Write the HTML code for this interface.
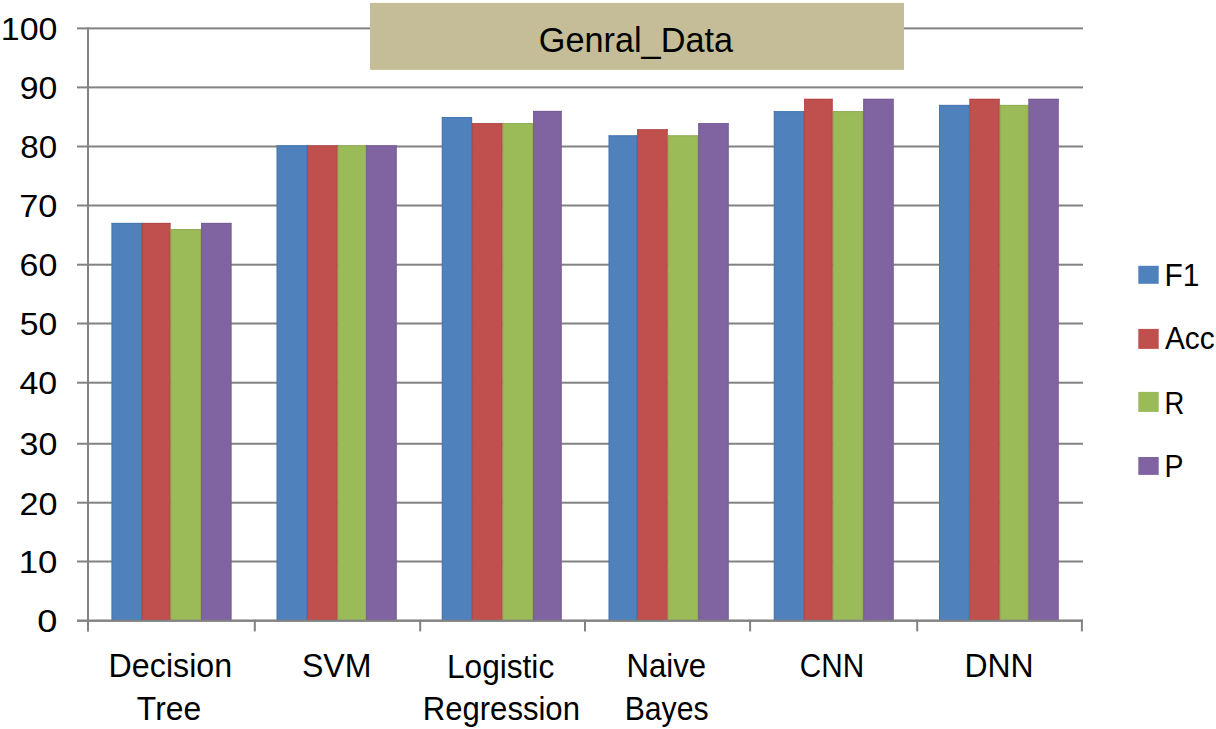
<!DOCTYPE html>
<html><head><meta charset="utf-8"><style>
html,body{margin:0;padding:0;background:#fff;width:1216px;height:729px;overflow:hidden}
svg{display:block}
text{font-family:"Liberation Sans",sans-serif;fill:#000;stroke:none}

</style></head><body>
<svg width="1216" height="729" viewBox="0 0 1216 729">
<rect x="0" y="0" width="1216" height="729" fill="#fff"/>
<rect x="77" y="619.70" width="1006" height="2" fill="#828282"/>
<rect x="77" y="560.50" width="1006" height="2" fill="#828282"/>
<rect x="77" y="501.70" width="1006" height="2" fill="#828282"/>
<rect x="77" y="442.75" width="1006" height="2" fill="#828282"/>
<rect x="77" y="381.70" width="1006" height="2" fill="#828282"/>
<rect x="77" y="322.50" width="1006" height="2" fill="#828282"/>
<rect x="77" y="263.70" width="1006" height="2" fill="#828282"/>
<rect x="77" y="204.50" width="1006" height="2" fill="#828282"/>
<rect x="77" y="145.50" width="1006" height="2" fill="#828282"/>
<rect x="77" y="86.40" width="1006" height="2" fill="#828282"/>
<rect x="77" y="27.40" width="1006" height="2" fill="#828282"/>
<rect x="111.50" y="222.90" width="30.50" height="397.80" fill="#4F81BD"/>
<rect x="141.99" y="222.90" width="1" height="397.80" fill="#4F81BD"/>
<rect x="142.00" y="222.90" width="28.50" height="397.80" fill="#C0504D"/>
<rect x="170.49" y="229.00" width="1" height="391.70" fill="#C0504D"/>
<rect x="170.50" y="229.00" width="30.60" height="391.70" fill="#9BBB59"/>
<rect x="201.09" y="229.00" width="1" height="391.70" fill="#9BBB59"/>
<rect x="201.10" y="222.90" width="30.40" height="397.80" fill="#8064A2"/>
<rect x="276.60" y="145.30" width="30.50" height="475.40" fill="#4F81BD"/>
<rect x="307.09" y="145.30" width="1" height="475.40" fill="#4F81BD"/>
<rect x="307.10" y="145.30" width="30.50" height="475.40" fill="#C0504D"/>
<rect x="337.59" y="145.30" width="1" height="475.40" fill="#C0504D"/>
<rect x="337.60" y="145.30" width="28.60" height="475.40" fill="#9BBB59"/>
<rect x="366.19" y="145.30" width="1" height="475.40" fill="#9BBB59"/>
<rect x="366.20" y="145.30" width="30.50" height="475.40" fill="#8064A2"/>
<rect x="441.80" y="117.00" width="30.30" height="503.70" fill="#4F81BD"/>
<rect x="472.09" y="123.10" width="1" height="497.60" fill="#4F81BD"/>
<rect x="472.10" y="123.10" width="30.40" height="497.60" fill="#C0504D"/>
<rect x="502.49" y="123.10" width="1" height="497.60" fill="#C0504D"/>
<rect x="502.50" y="123.10" width="30.60" height="497.60" fill="#9BBB59"/>
<rect x="533.09" y="123.10" width="1" height="497.60" fill="#9BBB59"/>
<rect x="533.10" y="110.90" width="28.60" height="509.80" fill="#8064A2"/>
<rect x="608.60" y="135.30" width="28.50" height="485.40" fill="#4F81BD"/>
<rect x="637.09" y="135.30" width="1" height="485.40" fill="#4F81BD"/>
<rect x="637.10" y="129.20" width="30.60" height="491.50" fill="#C0504D"/>
<rect x="667.69" y="135.30" width="1" height="485.40" fill="#C0504D"/>
<rect x="667.70" y="135.30" width="30.50" height="485.40" fill="#9BBB59"/>
<rect x="698.19" y="135.30" width="1" height="485.40" fill="#9BBB59"/>
<rect x="698.20" y="123.10" width="30.50" height="497.60" fill="#8064A2"/>
<rect x="773.80" y="111.10" width="30.30" height="509.60" fill="#4F81BD"/>
<rect x="804.09" y="111.10" width="1" height="509.60" fill="#4F81BD"/>
<rect x="804.10" y="98.80" width="28.60" height="521.90" fill="#C0504D"/>
<rect x="832.69" y="111.10" width="1" height="509.60" fill="#C0504D"/>
<rect x="832.70" y="111.10" width="30.50" height="509.60" fill="#9BBB59"/>
<rect x="863.19" y="111.10" width="1" height="509.60" fill="#9BBB59"/>
<rect x="863.20" y="98.80" width="30.50" height="521.90" fill="#8064A2"/>
<rect x="939.00" y="104.90" width="30.40" height="515.80" fill="#4F81BD"/>
<rect x="969.39" y="104.90" width="1" height="515.80" fill="#4F81BD"/>
<rect x="969.40" y="98.80" width="30.30" height="521.90" fill="#C0504D"/>
<rect x="999.69" y="104.90" width="1" height="515.80" fill="#C0504D"/>
<rect x="999.70" y="104.90" width="28.70" height="515.80" fill="#9BBB59"/>
<rect x="1028.39" y="104.90" width="1" height="515.80" fill="#9BBB59"/>
<rect x="1028.40" y="98.80" width="30.30" height="521.90" fill="#8064A2"/>
<rect x="111.50" y="222.90" width="30.50" height="1" fill="#4571a6" opacity="0.6"/>
<rect x="111.50" y="222.90" width="1" height="397.80" fill="#4571a6" opacity="0.6"/>
<rect x="141.00" y="222.90" width="1" height="397.80" fill="#4571a6" opacity="0.6"/>
<rect x="142.00" y="222.90" width="28.50" height="1" fill="#a84643" opacity="0.6"/>
<rect x="142.00" y="222.90" width="1" height="397.80" fill="#a84643" opacity="0.6"/>
<rect x="169.50" y="222.90" width="1" height="397.80" fill="#a84643" opacity="0.6"/>
<rect x="170.50" y="229.00" width="30.60" height="1" fill="#88a44e" opacity="0.6"/>
<rect x="170.50" y="229.00" width="1" height="391.70" fill="#88a44e" opacity="0.6"/>
<rect x="200.10" y="229.00" width="1" height="391.70" fill="#88a44e" opacity="0.6"/>
<rect x="201.10" y="222.90" width="30.40" height="1" fill="#70588e" opacity="0.6"/>
<rect x="201.10" y="222.90" width="1" height="397.80" fill="#70588e" opacity="0.6"/>
<rect x="230.50" y="222.90" width="1" height="397.80" fill="#70588e" opacity="0.6"/>
<rect x="276.60" y="145.30" width="30.50" height="1" fill="#4571a6" opacity="0.6"/>
<rect x="276.60" y="145.30" width="1" height="475.40" fill="#4571a6" opacity="0.6"/>
<rect x="306.10" y="145.30" width="1" height="475.40" fill="#4571a6" opacity="0.6"/>
<rect x="307.10" y="145.30" width="30.50" height="1" fill="#a84643" opacity="0.6"/>
<rect x="307.10" y="145.30" width="1" height="475.40" fill="#a84643" opacity="0.6"/>
<rect x="336.60" y="145.30" width="1" height="475.40" fill="#a84643" opacity="0.6"/>
<rect x="337.60" y="145.30" width="28.60" height="1" fill="#88a44e" opacity="0.6"/>
<rect x="337.60" y="145.30" width="1" height="475.40" fill="#88a44e" opacity="0.6"/>
<rect x="365.20" y="145.30" width="1" height="475.40" fill="#88a44e" opacity="0.6"/>
<rect x="366.20" y="145.30" width="30.50" height="1" fill="#70588e" opacity="0.6"/>
<rect x="366.20" y="145.30" width="1" height="475.40" fill="#70588e" opacity="0.6"/>
<rect x="395.70" y="145.30" width="1" height="475.40" fill="#70588e" opacity="0.6"/>
<rect x="441.80" y="117.00" width="30.30" height="1" fill="#4571a6" opacity="0.6"/>
<rect x="441.80" y="117.00" width="1" height="503.70" fill="#4571a6" opacity="0.6"/>
<rect x="471.10" y="117.00" width="1" height="503.70" fill="#4571a6" opacity="0.6"/>
<rect x="472.10" y="123.10" width="30.40" height="1" fill="#a84643" opacity="0.6"/>
<rect x="472.10" y="123.10" width="1" height="497.60" fill="#a84643" opacity="0.6"/>
<rect x="501.50" y="123.10" width="1" height="497.60" fill="#a84643" opacity="0.6"/>
<rect x="502.50" y="123.10" width="30.60" height="1" fill="#88a44e" opacity="0.6"/>
<rect x="502.50" y="123.10" width="1" height="497.60" fill="#88a44e" opacity="0.6"/>
<rect x="532.10" y="123.10" width="1" height="497.60" fill="#88a44e" opacity="0.6"/>
<rect x="533.10" y="110.90" width="28.60" height="1" fill="#70588e" opacity="0.6"/>
<rect x="533.10" y="110.90" width="1" height="509.80" fill="#70588e" opacity="0.6"/>
<rect x="560.70" y="110.90" width="1" height="509.80" fill="#70588e" opacity="0.6"/>
<rect x="608.60" y="135.30" width="28.50" height="1" fill="#4571a6" opacity="0.6"/>
<rect x="608.60" y="135.30" width="1" height="485.40" fill="#4571a6" opacity="0.6"/>
<rect x="636.10" y="135.30" width="1" height="485.40" fill="#4571a6" opacity="0.6"/>
<rect x="637.10" y="129.20" width="30.60" height="1" fill="#a84643" opacity="0.6"/>
<rect x="637.10" y="129.20" width="1" height="491.50" fill="#a84643" opacity="0.6"/>
<rect x="666.70" y="129.20" width="1" height="491.50" fill="#a84643" opacity="0.6"/>
<rect x="667.70" y="135.30" width="30.50" height="1" fill="#88a44e" opacity="0.6"/>
<rect x="667.70" y="135.30" width="1" height="485.40" fill="#88a44e" opacity="0.6"/>
<rect x="697.20" y="135.30" width="1" height="485.40" fill="#88a44e" opacity="0.6"/>
<rect x="698.20" y="123.10" width="30.50" height="1" fill="#70588e" opacity="0.6"/>
<rect x="698.20" y="123.10" width="1" height="497.60" fill="#70588e" opacity="0.6"/>
<rect x="727.70" y="123.10" width="1" height="497.60" fill="#70588e" opacity="0.6"/>
<rect x="773.80" y="111.10" width="30.30" height="1" fill="#4571a6" opacity="0.6"/>
<rect x="773.80" y="111.10" width="1" height="509.60" fill="#4571a6" opacity="0.6"/>
<rect x="803.10" y="111.10" width="1" height="509.60" fill="#4571a6" opacity="0.6"/>
<rect x="804.10" y="98.80" width="28.60" height="1" fill="#a84643" opacity="0.6"/>
<rect x="804.10" y="98.80" width="1" height="521.90" fill="#a84643" opacity="0.6"/>
<rect x="831.70" y="98.80" width="1" height="521.90" fill="#a84643" opacity="0.6"/>
<rect x="832.70" y="111.10" width="30.50" height="1" fill="#88a44e" opacity="0.6"/>
<rect x="832.70" y="111.10" width="1" height="509.60" fill="#88a44e" opacity="0.6"/>
<rect x="862.20" y="111.10" width="1" height="509.60" fill="#88a44e" opacity="0.6"/>
<rect x="863.20" y="98.80" width="30.50" height="1" fill="#70588e" opacity="0.6"/>
<rect x="863.20" y="98.80" width="1" height="521.90" fill="#70588e" opacity="0.6"/>
<rect x="892.70" y="98.80" width="1" height="521.90" fill="#70588e" opacity="0.6"/>
<rect x="939.00" y="104.90" width="30.40" height="1" fill="#4571a6" opacity="0.6"/>
<rect x="939.00" y="104.90" width="1" height="515.80" fill="#4571a6" opacity="0.6"/>
<rect x="968.40" y="104.90" width="1" height="515.80" fill="#4571a6" opacity="0.6"/>
<rect x="969.40" y="98.80" width="30.30" height="1" fill="#a84643" opacity="0.6"/>
<rect x="969.40" y="98.80" width="1" height="521.90" fill="#a84643" opacity="0.6"/>
<rect x="998.70" y="98.80" width="1" height="521.90" fill="#a84643" opacity="0.6"/>
<rect x="999.70" y="104.90" width="28.70" height="1" fill="#88a44e" opacity="0.6"/>
<rect x="999.70" y="104.90" width="1" height="515.80" fill="#88a44e" opacity="0.6"/>
<rect x="1027.40" y="104.90" width="1" height="515.80" fill="#88a44e" opacity="0.6"/>
<rect x="1028.40" y="98.80" width="30.30" height="1" fill="#70588e" opacity="0.6"/>
<rect x="1028.40" y="98.80" width="1" height="521.90" fill="#70588e" opacity="0.6"/>
<rect x="1057.70" y="98.80" width="1" height="521.90" fill="#70588e" opacity="0.6"/>
<rect x="87" y="27.4" width="2" height="604.00" fill="#828282"/>
<rect x="77" y="619.7" width="1006" height="2" fill="#828282"/>
<rect x="87.00" y="619.7" width="2" height="11.70" fill="#828282"/>
<rect x="253.80" y="619.7" width="2" height="11.70" fill="#828282"/>
<rect x="419.20" y="619.7" width="2" height="11.70" fill="#828282"/>
<rect x="584.00" y="619.7" width="2" height="11.70" fill="#828282"/>
<rect x="749.10" y="619.7" width="2" height="11.70" fill="#828282"/>
<rect x="916.20" y="619.7" width="2" height="11.70" fill="#828282"/>
<rect x="1080.90" y="619.7" width="2" height="11.70" fill="#828282"/>
<rect x="370" y="2.9" width="534" height="66.95" fill="#C4BD97"/>
<rect x="1138.3" y="265.8" width="20.4" height="18.00" fill="#4F81BD"/>
<rect x="1138.3" y="328.9" width="20.4" height="20.00" fill="#C0504D"/>
<rect x="1138.3" y="391.9" width="20.4" height="20.00" fill="#9BBB59"/>
<rect x="1138.3" y="457.0" width="20.4" height="17.90" fill="#8064A2"/>
<text transform="translate(0.81,40.26) scale(1.0550,1)" font-size="32.2">100</text>
<text transform="translate(19.83,98.66) scale(1.0485,1)" font-size="32.2">90</text>
<text transform="translate(20.28,158.26) scale(1.0294,1)" font-size="32.2">80</text>
<text transform="translate(19.17,216.75) scale(1.0677,1)" font-size="32.2">70</text>
<text transform="translate(19.58,276.06) scale(1.0555,1)" font-size="32.2">60</text>
<text transform="translate(19.86,335.46) scale(1.0475,1)" font-size="32.2">50</text>
<text transform="translate(19.41,394.27) scale(1.0548,1)" font-size="32.2">40</text>
<text transform="translate(19.58,455.33) scale(1.0556,1)" font-size="32.2">30</text>
<text transform="translate(19.48,514.66) scale(1.0586,1)" font-size="32.2">20</text>
<text transform="translate(18.70,572.86) scale(1.0813,1)" font-size="32.2">10</text>
<text transform="translate(37.29,632.08) scale(1.1252,1)" font-size="32.2">0</text>
<text transform="translate(108.59,677.47) scale(0.9950,1)" font-size="32.4">Decision</text>
<text transform="translate(136.86,719.80) scale(0.9834,1)" font-size="32.4">Tree</text>
<text transform="translate(301.91,677.09) scale(0.9909,1)" font-size="32.4">SVM</text>
<text transform="translate(446.94,677.85) scale(0.9767,1)" font-size="32.4">Logistic</text>
<text transform="translate(422.78,720.05) scale(0.9590,1)" font-size="32.4">Regression</text>
<text transform="translate(626.48,677.49) scale(0.9613,1)" font-size="32.4">Naive</text>
<text transform="translate(624.66,720.05) scale(0.9310,1)" font-size="32.4">Bayes</text>
<text transform="translate(799.71,676.66) scale(0.9184,1)" font-size="32.4">CNN</text>
<text transform="translate(964.41,676.91) scale(0.9865,1)" font-size="32.4">DNN</text>
<text class="t" transform="translate(538.81,51.68) scale(0.9678,1)" font-size="35.4">Genral_Data</text>
<text transform="translate(1164.46,285.70) scale(0.9288,1)" font-size="32.2">F1</text>
<text transform="translate(1164.88,348.75) scale(0.9254,1)" font-size="32.2">Acc</text>
<text transform="translate(1164.46,414.00) scale(0.8523,1)" font-size="32.2">R</text>
<text transform="translate(1164.49,476.70) scale(0.8818,1)" font-size="32.2">P</text>
</svg>
</body></html>
